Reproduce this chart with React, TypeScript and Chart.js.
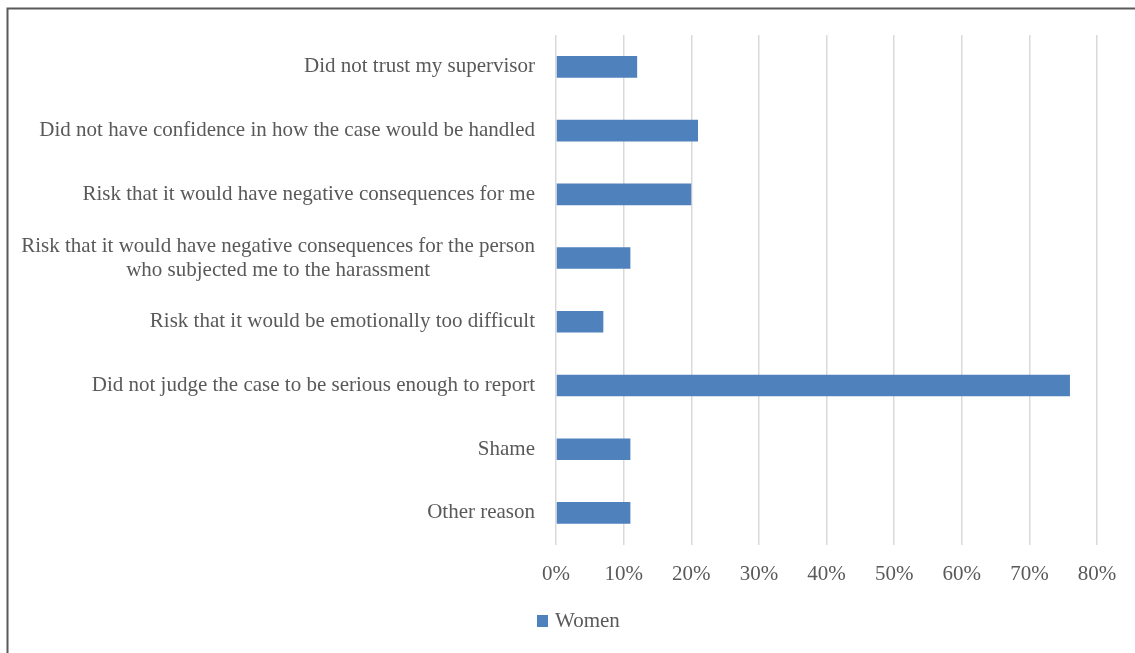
import React, { useEffect, useRef } from "react";
import { Chart, registerables } from "chart.js";

Chart.register(...registerables);

const categories: (string | string[])[] = [
  "Did not trust my supervisor",
  "Did not have confidence in how the case would be handled",
  "Risk that it would have negative consequences for me",
  ["Risk that it would have negative consequences for the person", "who subjected me to the harassment"],
  "Risk that it would be emotionally too difficult",
  "Did not judge the case to be serious enough to report",
  "Shame",
  "Other reason",
];

const womenValues: number[] = [12, 21, 20, 11, 7, 76, 11, 11];

const xTickValues: number[] = [0, 10, 20, 30, 40, 50, 60, 70, 80];

const seriesName = "Women";

const FONT_FAMILY = '"Liberation Serif", "DejaVu Serif", serif';
const FONT_SIZE = 21;
const LINE_H = 24;
const TEXT_COLOR = "#595959";
const BAR_COLOR = "#4f81bd";
const GRID_COLOR = "#d9d9d9";

const decorPlugin = {
  id: "decor",
  afterDraw(chart: any) {
    const ctx = chart.ctx as CanvasRenderingContext2D;
    const ys = chart.scales.y;
    ctx.save();
    ctx.font = `${FONT_SIZE}px ${FONT_FAMILY}`;
    ctx.fillStyle = TEXT_COLOR;
    ctx.textBaseline = "middle";
    ctx.textAlign = "center";
    categories.forEach((lab, i) => {
      const lines = Array.isArray(lab) ? lab : [lab];
      const w = Math.max(...lines.map((l) => ctx.measureText(l).width));
      const cx = ys.right - 21 - w / 2;
      const cy = ys.getPixelForValue(i);
      lines.forEach((l, j) => {
        ctx.fillText(l, cx, cy + (j - (lines.length - 1) / 2) * LINE_H);
      });
    });
    // legend
    const lx = ys.right - 19;
    const ly = 621;
    ctx.fillStyle = BAR_COLOR;
    ctx.fillRect(lx, ly - 6, 11, 12);
    ctx.fillStyle = TEXT_COLOR;
    ctx.textAlign = "left";
    ctx.fillText(seriesName, lx + 18, ly);
    // outer frame
    ctx.strokeStyle = "#5a5a5a";
    ctx.lineWidth = 2;
    ctx.beginPath();
    ctx.moveTo(7.5, 653);
    ctx.lineTo(7.5, 8.5);
    ctx.lineTo(1135, 8.5);
    ctx.stroke();
    ctx.restore();
  },
};

export default function App() {
  const ref = useRef<HTMLCanvasElement | null>(null);
  useEffect(() => {
    if (!ref.current) return;
    const chart = new Chart(ref.current, {
      type: "bar",
      data: {
        labels: categories as any,
        datasets: [
          {
            label: seriesName,
            data: womenValues,
            backgroundColor: BAR_COLOR,
            borderWidth: 0,
            barPercentage: 0.34,
            categoryPercentage: 1,
          },
        ],
      },
      options: {
        indexAxis: "y",
        animation: false,
        responsive: false,
        layout: { padding: { top: 35, right: 38, left: 0, bottom: 49 } },
        plugins: {
          legend: { display: false },
          tooltip: { enabled: false },
        },
        scales: {
          x: {
            min: 0,
            max: 80,
            afterBuildTicks(scale: any) {
              scale.ticks = xTickValues.map((v) => ({ value: v }));
            },
            ticks: {
              callback: (v: any) => `${v}%`,
              color: TEXT_COLOR,
              font: { family: FONT_FAMILY, size: FONT_SIZE },
              padding: 17,
              maxRotation: 0,
            },
            grid: { color: GRID_COLOR, lineWidth: 1.5, drawTicks: false },
            border: { display: false },
          },
          y: {
            ticks: { display: false },
            grid: { display: false },
            border: { display: false },
            afterFit(scale: any) {
              scale.width = 556;
            },
          },
        },
      },
      plugins: [decorPlugin],
    });
    return () => chart.destroy();
  }, []);
  return (
    <div style={{ position: "fixed", left: 0, top: 0, width: 1135, height: 653, background: "#fff" }}>
      <canvas ref={ref} width={1135} height={653} style={{ display: "block" }} />
    </div>
  );
}
